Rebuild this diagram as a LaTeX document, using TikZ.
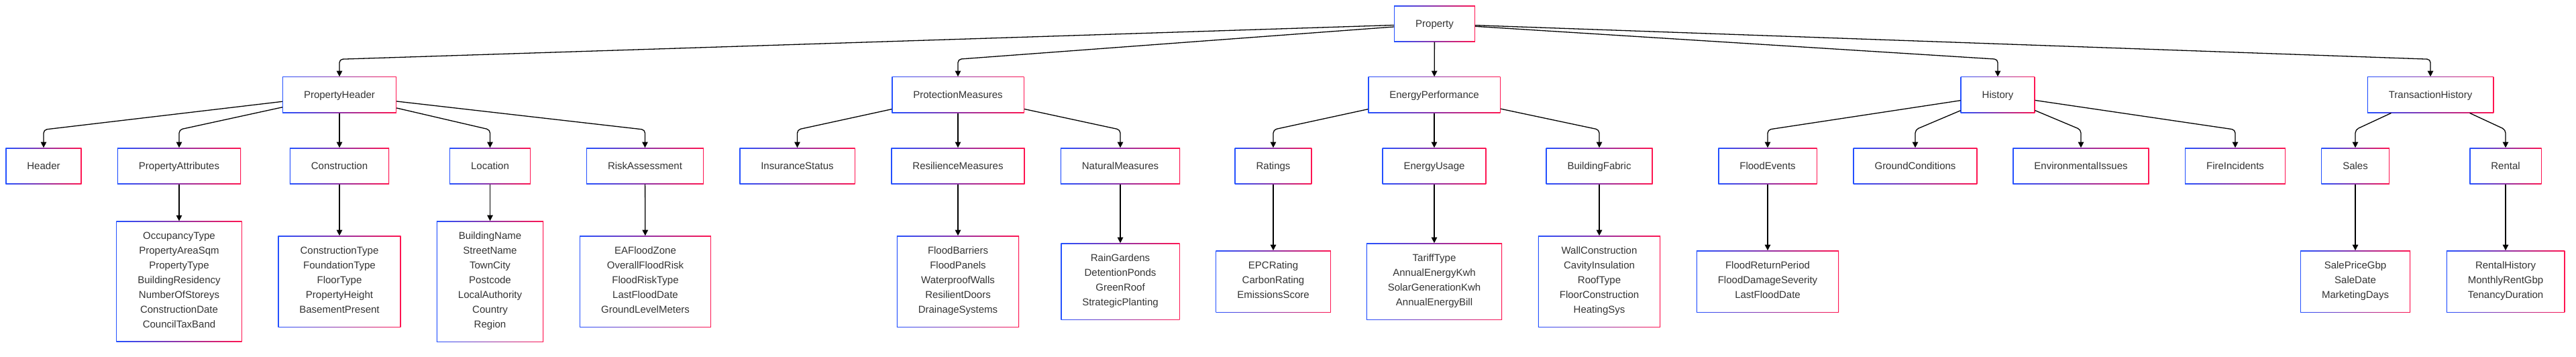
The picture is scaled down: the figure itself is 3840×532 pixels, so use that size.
\documentclass[tikz,border=0pt]{standalone}
\usepackage{fontspec}
\setmainfont{Liberation Sans}
\usetikzlibrary{arrows.meta}
\definecolor{gb}{RGB}{35,80,255}
\definecolor{gr}{RGB}{255,20,80}
\definecolor{txt}{RGB}{51,51,51}
\newcommand\mystrut{\rule[-5.6pt]{0pt}{22pt}}
\tikzset{
  box/.style={fill=white, inner xsep=32pt, inner ysep=16pt, align=center,
    text=txt, font=\fontsize{15pt}{22pt}\selectfont,
    execute at begin node=\mystrut, execute at end node=\mystrut,
    path picture={
      \shade[left color=gb,right color=gr] (path picture bounding box.south west) rectangle (path picture bounding box.north east);
      \fill[white] ([shift={(1.2pt,1.2pt)}]path picture bounding box.south west) rectangle ([shift={(-1.2pt,-1.2pt)}]path picture bounding box.north east);
    }},
  edge/.style={draw=black, line width=1.3pt, rounded corners=5pt, -{Triangle[length=8.5pt,width=8.5pt]}},
}
\begin{document}
\begin{tikzpicture}[x=1pt,y=-1pt]
\useasboundingbox (0,0) rectangle (3840,532);
% level 1
\node[box] (P) at (2138.5,35.5) {Property};
% level 2
\node[box] (PH) at (506,141.3) {PropertyHeader};
\node[box] (PM) at (1428,141.3) {ProtectionMeasures};
\node[box] (EP) at (2138,141.3) {EnergyPerformance};
\node[box] (HI) at (2978,141.3) {History};
\node[box] (TH) at (3623,141.3) {TransactionHistory};
% level 3
\node[box] (HD) at (65,247.3) {Header};
\node[box] (PA) at (267,247.3) {PropertyAttributes};
\node[box] (CO) at (506,247.3) {Construction};
\node[box] (LO) at (730.5,247.3) {Location};
\node[box] (RA) at (961.5,247.3) {RiskAssessment};
\node[box] (IS) at (1188.5,247.3) {InsuranceStatus};
\node[box] (RM) at (1428,247.3) {ResilienceMeasures};
\node[box] (NM) at (1670,247.3) {NaturalMeasures};
\node[box] (RT) at (1898,247.3) {Ratings};
\node[box] (EU) at (2138,247.3) {EnergyUsage};
\node[box] (BF) at (2384,247.3) {BuildingFabric};
\node[box] (FE) at (2635,247.3) {FloodEvents};
\node[box] (GC) at (2855,247.3) {GroundConditions};
\node[box] (EI) at (3102,247.3) {EnvironmentalIssues};
\node[box] (FI) at (3332,247.3) {FireIncidents};
\node[box] (SA) at (3511,247.3) {Sales};
\node[box] (RE) at (3735,247.3) {Rental};
% level 4
\node[box] (PAl) at (267,419.6) {OccupancyType\\PropertyAreaSqm\\PropertyType\\BuildingResidency\\NumberOfStoreys\\ConstructionDate\\CouncilTaxBand};
\node[box] (COl) at (506,419.6) {ConstructionType\\FoundationType\\FloorType\\PropertyHeight\\BasementPresent};
\node[box] (LOl) at (730.5,419.6) {BuildingName\\StreetName\\TownCity\\Postcode\\LocalAuthority\\Country\\Region};
\node[box] (RAl) at (962,419.6) {EAFloodZone\\OverallFloodRisk\\FloodRiskType\\LastFloodDate\\GroundLevelMeters};
\node[box] (RMl) at (1428,419.6) {FloodBarriers\\FloodPanels\\WaterproofWalls\\ResilientDoors\\DrainageSystems};
\node[box] (NMl) at (1670,419.6) {RainGardens\\DetentionPonds\\GreenRoof\\StrategicPlanting};
\node[box] (RTl) at (1898,419.6) {EPCRating\\CarbonRating\\EmissionsScore};
\node[box] (EUl) at (2138,419.6) {TariffType\\AnnualEnergyKwh\\SolarGenerationKwh\\AnnualEnergyBill};
\node[box] (BFl) at (2384,419.6) {WallConstruction\\CavityInsulation\\RoofType\\FloorConstruction\\HeatingSys};
\node[box] (FEl) at (2635,419.6) {FloodReturnPeriod\\FloodDamageSeverity\\LastFloodDate};
\node[box] (SAl) at (3511,419.6) {SalePriceGbp\\SaleDate\\MarketingDays};
\node[box] (REl) at (3735,419.6) {RentalHistory\\MonthlyRentGbp\\TenancyDuration};
% edges level 1 -> 2
\foreach \c in {PH,PM,HI,TH} \draw[edge] (P) -- (\c.north |- 0,88.3) -- (\c.north);
\draw[edge] (P) -- (EP);
% edges level 2 -> 3
\foreach \p/\c in {PH/HD,PH/PA,PH/LO,PH/RA,PM/IS,PM/NM,EP/RT,EP/BF,HI/FE,HI/GC,HI/EI,HI/FI,TH/SA,TH/RE}
  \draw[edge] (\p) -- (\c.north |- 0,193.3) -- (\c.north);
\foreach \p/\c in {PH/CO,PM/RM,EP/EU} \draw[edge] (\p) -- (\c);
% edges level 3 -> 4
\foreach \p in {PA,CO,LO,RA,RM,NM,RT,EU,BF,FE,SA,RE} \draw[edge] (\p) -- (\p l);
\end{tikzpicture}
\end{document}
